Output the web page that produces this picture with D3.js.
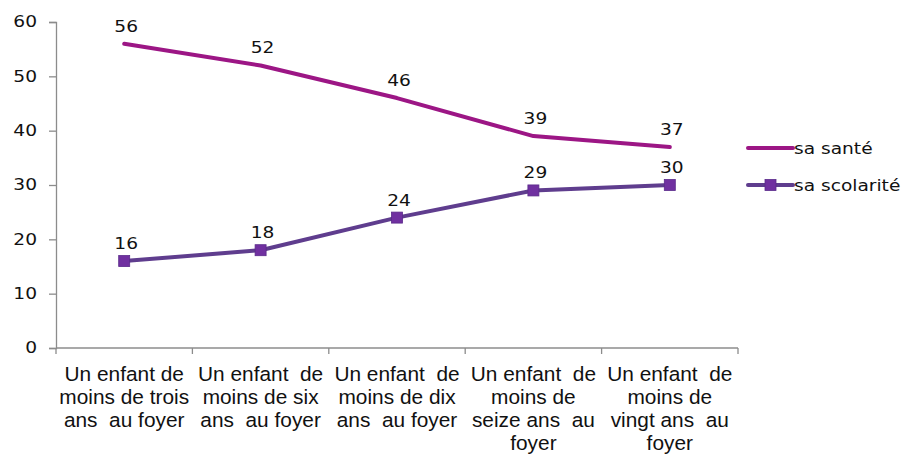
<!DOCTYPE html>
<html>
<head>
<meta charset="utf-8">
<script src="https://cdn.jsdelivr.net/npm/d3@7"></script>
<style>
  html, body { margin: 0; padding: 0; background: #fff; }
  svg { display: block; }
</style>
</head>
<body>
<svg id="chart" width="904" height="455"></svg>
<script>
// Categories, each split into the lines shown under the axis
const categories = [
  "Un enfant de moins de trois ans au foyer",
  "Un enfant de moins de six ans au foyer",
  "Un enfant de moins de dix ans au foyer",
  "Un enfant de moins de seize ans au foyer",
  "Un enfant de moins de vingt ans au foyer"
];
const categoryLines = [
  ["Un enfant de", "moins de trois", "ans  au foyer"],
  ["Un enfant  de", "moins de six", "ans  au foyer"],
  ["Un enfant  de", "moins de dix", "ans  au foyer"],
  ["Un enfant  de", "moins de", "seize ans  au", "foyer"],
  ["Un enfant  de", "moins de", "vingt ans  au", "foyer"]
];
const santeValues = [56, 52, 46, 39, 37];
const scolariteValues = [16, 18, 24, 29, 30];
const yTicks = [0, 10, 20, 30, 40, 50, 60];

const series = [
  { name: "sa santé", values: santeValues, color: "#9C1685", marker: false },
  { name: "sa scolarité", values: scolariteValues, color: "#5F3D8E", markerColor: "#7030A0", marker: true }
];

const svg = d3.select("#chart");
const plotLeft = 56, plotRight = 738, plotTop = 22, plotBottom = 348;
const numFont = "'DejaVu Sans', Verdana, sans-serif";
const numSize = 15.5, numStretch = 1.2;
const catFont = "'Liberation Sans', Arial, sans-serif";
const catSize = 19.5, catStretch = 1.07;

const x = d3.scaleBand().domain(categories).range([plotLeft, plotRight]);
const y = d3.scaleLinear().domain([0, 60]).range([plotBottom, plotTop]);
const cx = c => x(c) + x.bandwidth() / 2;

// Text drawn with a slight horizontal stretch
function wideText(g, px, py, sx, anchor) {
  return g.append("text")
    .attr("transform", `translate(${px},${py}) scale(${sx},1)`)
    .attr("text-anchor", anchor);
}

// Y axis
const yAxis = svg.append("g")
  .attr("transform", `translate(${plotLeft},0)`)
  .call(d3.axisLeft(y).tickValues(yTicks).tickSize(7).tickPadding(12).tickFormat(d3.format("d")));
yAxis.select(".domain").attr("stroke", "#8c8c8c").attr("stroke-width", 1.3);
yAxis.selectAll(".tick line").attr("stroke", "#8c8c8c").attr("stroke-width", 1.3);
yAxis.selectAll(".tick text")
  .attr("x", -19 / numStretch)
  .attr("transform", `scale(${numStretch},1)`)
  .attr("font-family", numFont).attr("font-size", numSize).attr("fill", "#111");

// X axis with ticks on the category boundaries
const xAxis = svg.append("g").attr("transform", `translate(0,${plotBottom})`);
xAxis.append("line")
  .attr("x1", plotLeft).attr("x2", plotRight).attr("y1", 0).attr("y2", 0)
  .attr("stroke", "#8c8c8c").attr("stroke-width", 1.3);
const bounds = categories.map(c => x(c)).concat([x(categories[categories.length - 1]) + x.bandwidth()]);
xAxis.selectAll("line.tick").data(bounds).enter().append("line")
  .attr("class", "tick")
  .attr("x1", d => d).attr("x2", d => d).attr("y1", 0).attr("y2", 6)
  .attr("stroke", "#8c8c8c").attr("stroke-width", 1.3);

const catLabels = svg.append("g");
categories.forEach((c, i) => {
  const t = wideText(catLabels, cx(c), 381, catStretch, "middle")
    .attr("font-family", catFont)
    .attr("font-size", catSize)
    .attr("fill", "#111")
    .style("white-space", "pre");
  categoryLines[i].forEach((ln, j) => {
    t.append("tspan").attr("x", 0).attr("y", j * 23).text(ln);
  });
});

// Lines, markers and value labels
const line = d3.line().x((d, i) => cx(categories[i])).y(d => y(d));
series.forEach(s => {
  svg.append("path")
    .datum(s.values)
    .attr("d", line)
    .attr("fill", "none")
    .attr("stroke", s.color)
    .attr("stroke-width", 4)
    .attr("stroke-linejoin", "round")
    .attr("stroke-linecap", "round");
  if (s.marker) {
    svg.selectAll(null).data(s.values).enter().append("rect")
      .attr("x", (d, i) => cx(categories[i]) - 5.5)
      .attr("y", d => y(d) - 5.5)
      .attr("width", 11).attr("height", 11)
      .attr("fill", s.markerColor)
      .attr("stroke", "#5a2a8a").attr("stroke-width", 0.8);
  }
  const labels = svg.append("g");
  s.values.forEach((v, i) => {
    wideText(labels, cx(categories[i]) + 2, y(v) - 12, numStretch, "middle")
      .attr("font-family", numFont)
      .attr("font-size", numSize)
      .attr("fill", "#111")
      .text(v);
  });
});

// Legend
const legend = svg.append("g").attr("transform", "translate(748,0)");
series.forEach((s, i) => {
  const ly = 148 + i * 37;
  legend.append("line")
    .attr("x1", 0).attr("x2", 45).attr("y1", ly).attr("y2", ly)
    .attr("stroke", s.color).attr("stroke-width", 4).attr("stroke-linecap", "round");
  if (s.marker) {
    legend.append("rect")
      .attr("x", 17).attr("y", ly - 5.5).attr("width", 11).attr("height", 11)
      .attr("fill", s.markerColor).attr("stroke", "#5a2a8a").attr("stroke-width", 0.8);
  }
  wideText(legend, 46, ly + 5.5, numStretch, "start")
    .attr("font-family", numFont).attr("font-size", numSize).attr("fill", "#111")
    .text(s.name);
});
</script>
</body>
</html>
